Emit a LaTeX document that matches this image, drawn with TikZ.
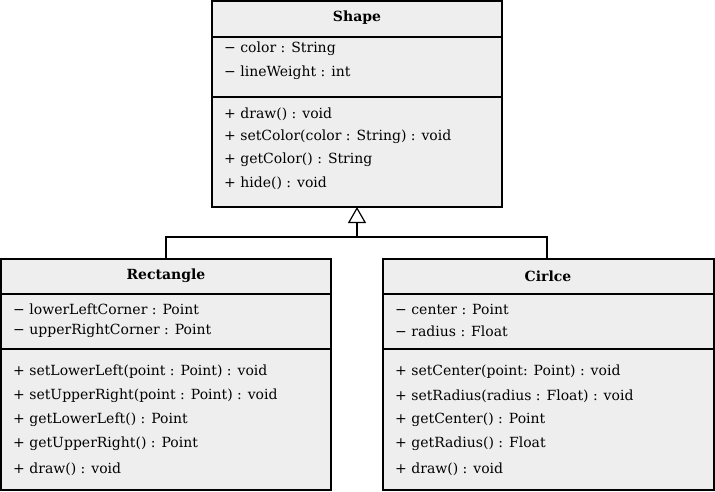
\documentclass[tikz,border=0pt]{standalone}
\usepackage{fontspec}
\setmainfont{DejaVu Serif}
\usetikzlibrary{arrows.meta}
\begin{document}
\begin{tikzpicture}[x=1pt,y=-1pt,
  box/.style={draw=black,line width=1.2pt,fill=gray!13},
  txt/.style={anchor=west,inner sep=0pt,font=\fontsize{14}{16}\selectfont},
  hdr/.style={inner sep=0pt,font=\fontsize{14}{16}\selectfont\bfseries},
  conn/.style={line width=1.2pt}]
\useasboundingbox (0,0) rectangle (715,492);
% Shape
\draw[box] (212,1) rectangle (502,207);
\draw[line width=1.2pt] (212,37)--(502,37) (212,97)--(502,97);
\node[hdr] (sh) at (357,18) {Shape};
\node[txt] (s1) at (224,49) {− color : String};
\node[txt] (s2) at (224,73) {− lineWeight : int};
\node[txt] (s3) at (224,114) {+ draw() : void};
\node[txt] (s4) at (224,137) {+ setColor(color : String) : void};
\node[txt] (s5) at (224,160) {+ getColor() : String};
\node[txt] (s6) at (224,183) {+ hide() : void};
% Rectangle
\draw[box] (1,259) rectangle (331,490);
\draw[line width=1.2pt] (1,294)--(331,294) (1,349)--(331,349);
\node[hdr] (rh) at (166,276) {Rectangle};
\node[txt] (r1) at (13,309) {− lowerLeftCorner : Point};
\node[txt] (r2) at (13,331) {− upperRightCorner : Point};
\node[txt] (r3) at (13,372) {+ setLowerLeft(point : Point) : void};
\node[txt] (r4) at (13,396) {+ setUpperRight(point : Point) : void};
\node[txt] (r5) at (13,420) {+ getLowerLeft() : Point};
\node[txt] (r6) at (13,444) {+ getUpperRight() : Point};
\node[txt] (r7) at (13,469) {+ draw() : void};
% Circle
\draw[box] (383,259) rectangle (714,490);
\draw[line width=1.2pt] (383,294)--(714,294) (383,349)--(714,349);
\node[hdr] (ch) at (548,276) {Cirlce};
\node[txt] (c1) at (395,309) {− center : Point};
\node[txt] (c2) at (395,331) {− radius : Float};
\node[txt] (c3) at (395,372) {+ setCenter(point: Point) : void};
\node[txt] (c4) at (395,396) {+ setRadius(radius : Float) : void};
\node[txt] (c5) at (395,420) {+ getCenter() : Point};
\node[txt] (c6) at (395,444) {+ getRadius() : Float};
\node[txt] (c7) at (395,469) {+ draw() : void};
% inheritance
\coordinate (top) at (357,207);
\coordinate (j) at (357,237);
\draw[conn] (166,259) -- (166,237) -- (547,237) -- (547,259);
\draw[conn,-{Triangle[open,length=16pt,width=18pt]}] (j) -- (top);
\end{tikzpicture}
\end{document}
